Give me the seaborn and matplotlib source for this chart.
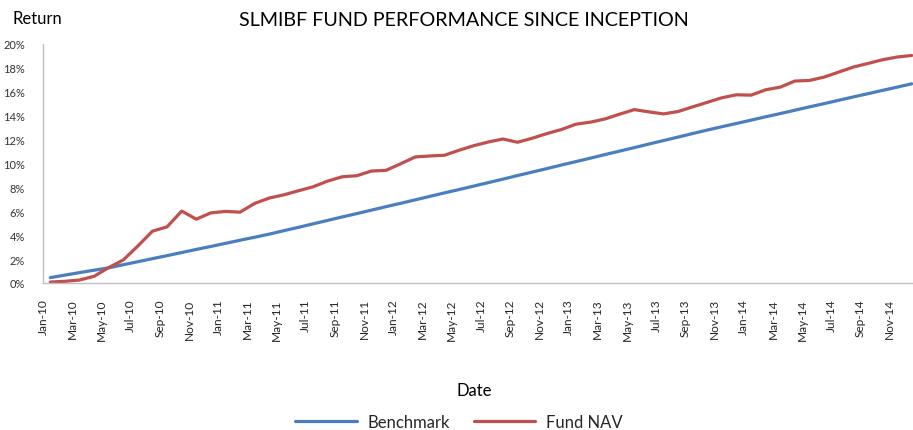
import matplotlib
matplotlib.use("Agg")
import matplotlib.pyplot as plt
import pandas as pd
import seaborn as sns
from matplotlib.lines import Line2D
from matplotlib.ticker import FuncFormatter

MONTHS = ["Jan", "Feb", "Mar", "Apr", "May", "Jun", "Jul", "Aug", "Sep", "Oct", "Nov", "Dec"]
YEARS = ["10", "11", "12", "13", "14"]
dates = [f"{m}-{y}" for y in YEARS for m in MONTHS]

# cumulative returns in % (Jan-10 .. Dec-14)
benchmark = [
    0.45, 0.66, 0.87, 1.07, 1.27, 1.53, 1.78, 2.04, 2.29, 2.55, 2.81, 3.06,
    3.32, 3.58, 3.83, 4.09, 4.38, 4.66, 4.95, 5.24, 5.53, 5.81, 6.10, 6.39,
    6.67, 6.96, 7.25, 7.54, 7.82, 8.11, 8.40, 8.69, 8.99, 9.28, 9.57, 9.87,
    10.16, 10.45, 10.75, 11.04, 11.33, 11.63, 11.92, 12.21, 12.51, 12.80, 13.08, 13.35,
    13.63, 13.91, 14.18, 14.46, 14.74, 15.01, 15.29, 15.57, 15.84, 16.12, 16.39, 16.67,
]
fund_nav = [
    0.08, 0.14, 0.25, 0.56, 1.29, 1.93, 3.10, 4.34, 4.70, 6.02, 5.34, 5.87,
    5.99, 5.93, 6.66, 7.11, 7.38, 7.72, 8.05, 8.53, 8.89, 8.98, 9.37, 9.43,
    9.98, 10.55, 10.63, 10.69, 11.11, 11.49, 11.80, 12.05, 11.78, 12.11, 12.50, 12.84,
    13.29, 13.46, 13.73, 14.13, 14.51, 14.32, 14.15, 14.35, 14.74, 15.12, 15.50, 15.75,
    15.72, 16.17, 16.39, 16.90, 16.95, 17.23, 17.65, 18.07, 18.37, 18.68, 18.91, 19.04,
]

COLORS = {"Benchmark": "#4A7EBF", "Fund NAV": "#C0504D"}

df = pd.concat(
    [
        pd.DataFrame({"pos": range(len(dates)), "value": benchmark, "series": "Benchmark"}),
        pd.DataFrame({"pos": range(len(dates)), "value": fund_nav, "series": "Fund NAV"}),
    ],
    ignore_index=True,
)

sns.set_theme(style="white")
plt.rcParams["font.family"] = ["Lato", "DejaVu Sans"]

W, H = 913, 431
fig = plt.figure(figsize=(W / 100, H / 100), dpi=100)
ax = fig.add_axes([43 / W, 1 - 284 / H, (919 - 43) / W, (284 - 45) / H])

sns.lineplot(data=df, x="pos", y="value", hue="series", palette=COLORS,
             linewidth=2.3, ax=ax, legend=False)

ax.set_xlim(-0.5, len(dates) - 0.5)
ax.set_ylim(0, 20)
ax.set_xticks([i - 0.5 for i in range(0, len(dates), 2)])
ax.set_xticklabels(dates[::2], rotation=90)
ax.set_yticks(range(0, 21, 2))
ax.yaxis.set_major_formatter(FuncFormatter(lambda v, _: f"{v:.0f}%"))
ax.tick_params(axis="both", direction="out", length=4, width=1, color="#BFBFBF",
               labelsize=8, labelcolor="#333333")
ax.tick_params(axis="x", pad=7, labelsize=8.6, labelcolor="#262626")
ax.tick_params(axis="y", pad=9)
ax.set_xlabel("")
ax.set_ylabel("")
for side in ["top", "right"]:
    ax.spines[side].set_visible(False)
for side in ["left", "bottom"]:
    ax.spines[side].set_color("#BFBFBF")
    ax.spines[side].set_linewidth(1)

fig.text(464 / W, 1 - 21 / H, "SLMIBF FUND PERFORMANCE SINCE INCEPTION",
         ha="center", va="center", fontsize=14.2, color="black")
fig.text(12 / W, 1 - 19 / H, "Return", ha="left", va="center", fontsize=12, color="black")
fig.text(474 / W, 1 - 391 / H, "Date", ha="center", va="center", fontsize=12, color="black")

handles = [Line2D([], [], color=COLORS[k], linewidth=2.3) for k in COLORS]
fig.legend(handles, list(COLORS), loc="center", bbox_to_anchor=(459 / W, 1 - 423 / H),
           ncol=2, frameon=False, fontsize=12, handlelength=3.7, handletextpad=0.66,
           columnspacing=1.4, borderpad=0)

fig.savefig("out.png", dpi=100)
